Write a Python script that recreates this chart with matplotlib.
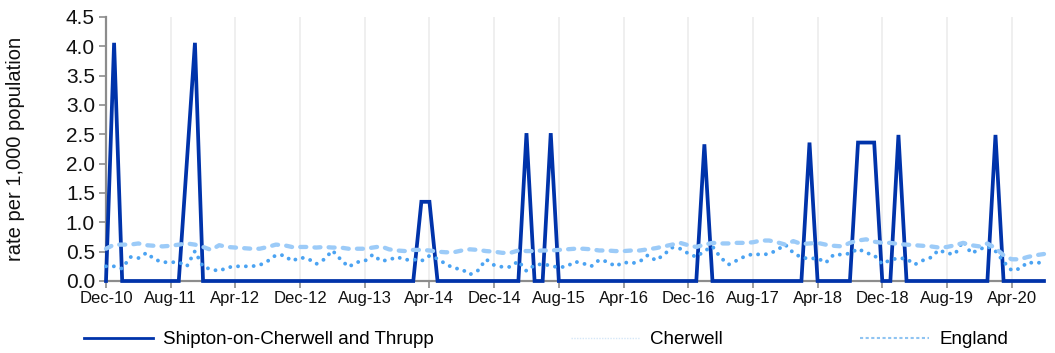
import numpy as np
import pandas as pd
import matplotlib
matplotlib.use('Agg')
import matplotlib.pyplot as plt
from matplotlib.lines import Line2D

''' ========== monthly rates, Dec-10 .. Aug-20 ========== '''
months = pd.date_range('2010-12-01', periods=117, freq='MS')
month_labels = [m.strftime('%b-%y') for m in months]

# Shipton-on-Cherwell and Thrupp - mostly zero with single-month spikes
shipton = np.zeros(117)
shipton[[1, 11]] = 4.06
shipton[10] = 2.03
shipton[[39, 40]] = 1.35
shipton[[52, 55]] = 2.52
shipton[74] = 2.33
shipton[[87, 93, 94, 95]] = 2.36
shipton[[98, 110]] = 2.49

cherwell = [0.25, 0.25, 0.21, 0.41, 0.39, 0.48, 0.37, 0.32, 0.32, 0.32,
            0.25, 0.51, 0.24, 0.20, 0.17, 0.23, 0.25, 0.25, 0.25, 0.27,
            0.34, 0.44, 0.44, 0.34, 0.40, 0.38, 0.29, 0.37, 0.52, 0.37,
            0.24, 0.32, 0.34, 0.45, 0.34, 0.36, 0.41, 0.36, 0.37, 0.34,
            0.43, 0.38, 0.29, 0.22, 0.20, 0.11, 0.18, 0.37, 0.27, 0.24,
            0.24, 0.34, 0.17, 0.27, 0.29, 0.26, 0.23, 0.25, 0.33, 0.30,
            0.25, 0.36, 0.33, 0.25, 0.32, 0.30, 0.33, 0.44, 0.35, 0.45,
            0.57, 0.55, 0.47, 0.41, 0.51, 0.59, 0.40, 0.28, 0.35, 0.42,
            0.46, 0.45, 0.46, 0.53, 0.62, 0.48, 0.40, 0.38, 0.39, 0.31,
            0.45, 0.45, 0.47, 0.55, 0.48, 0.44, 0.29, 0.36, 0.39, 0.38,
            0.28, 0.35, 0.40, 0.53, 0.47, 0.46, 0.68, 0.47, 0.54, 0.59,
            0.51, 0.33, 0.18, 0.21, 0.32, 0.30, 0.33]

england = [0.55, 0.62, 0.62, 0.62, 0.64, 0.61, 0.60, 0.59, 0.60, 0.62,
           0.64, 0.62, 0.58, 0.53, 0.61, 0.58, 0.57, 0.56, 0.55, 0.55,
           0.58, 0.62, 0.61, 0.58, 0.58, 0.58, 0.57, 0.58, 0.57, 0.57,
           0.55, 0.55, 0.55, 0.57, 0.59, 0.54, 0.52, 0.51, 0.53, 0.53,
           0.52, 0.50, 0.49, 0.49, 0.52, 0.54, 0.53, 0.51, 0.50, 0.48,
           0.48, 0.52, 0.51, 0.51, 0.52, 0.52, 0.53, 0.54, 0.55, 0.55,
           0.54, 0.52, 0.52, 0.51, 0.51, 0.52, 0.52, 0.54, 0.56, 0.59,
           0.62, 0.65, 0.61, 0.58, 0.62, 0.65, 0.64, 0.64, 0.65, 0.65,
           0.66, 0.69, 0.69, 0.66, 0.62, 0.68, 0.63, 0.64, 0.65, 0.62,
           0.60, 0.59, 0.65, 0.69, 0.71, 0.67, 0.65, 0.65, 0.63, 0.62,
           0.61, 0.60, 0.59, 0.57, 0.58, 0.61, 0.65, 0.61, 0.59, 0.64,
           0.56, 0.44, 0.37, 0.37, 0.41, 0.44, 0.46]

series_names = ['Shipton-on-Cherwell and Thrupp', 'Cherwell', 'England']
y_ticks = np.arange(0, 4.51, 0.5)

dark_blue = '#0033aa'
mid_blue = '#4ba3f2'
light_blue = '#9ccbf8'
axis_grey = '#8c8c8c'

plt.rcParams['font.family'] = ['Liberation Sans', 'DejaVu Sans']

fig = plt.figure(figsize=(10.55, 3.53), dpi=100)
ax = fig.add_axes([106 / 1055, 1 - 281 / 353, 938 / 1055, 264 / 353])

x = np.arange(len(months))
ax.plot(x, shipton, color=dark_blue, lw=2.7, solid_joinstyle='miter', clip_on=False, zorder=3)
ax.plot(x, cherwell, color=mid_blue, lw=2.8, linestyle=(0, (0.01, 2.0)),
        dash_capstyle='round', clip_on=False, zorder=4)
ax.plot(x, england, color=light_blue, lw=3.1, linestyle=(0, (1.4, 1.9)),
        dash_capstyle='round', clip_on=False, zorder=5)

ax.set_xlim(0, len(months) - 1)
ax.set_ylim(0, 4.5)
ax.set_yticks(y_ticks)
ax.set_yticklabels([f'{v:.1f}' for v in y_ticks])
tick_idx = list(range(0, len(months), 8))
ax.set_xticks(tick_idx)
ax.set_xticklabels([month_labels[i] for i in tick_idx])

ax.grid(axis='x', color='#ececec', lw=1.2, zorder=0)
ax.set_axisbelow(True)
for side in ['top', 'right']:
    ax.spines[side].set_visible(False)
for side in ['left', 'bottom']:
    ax.spines[side].set_color(axis_grey)
    ax.spines[side].set_linewidth(1.6)
ax.tick_params(axis='both', colors=axis_grey, width=1.2, length=5, labelcolor='#111111')
ax.tick_params(axis='x', labelsize=12, pad=2)
ax.tick_params(axis='y', labelsize=15, pad=3)
ax.set_ylabel('rate per 1,000 population', fontsize=14.5, color='#111111')
ax.yaxis.set_label_coords(-0.086, 0.5)

handles = [Line2D([], [], color=dark_blue, lw=2.0),
           Line2D([], [], color='#d5e7f8', lw=1.0, linestyle=(0, (1, 1))),
           Line2D([], [], color='#8fc4f2', lw=1.5, linestyle=(0, (1.5, 1.2)))]
fig.legend(handles, series_names, loc='center', ncol=3, mode='expand', frameon=False,
           bbox_to_anchor=(76 / 1055, 0.0, 940 / 1055, 0.075), fontsize=13.5,
           handlelength=3.7, handletextpad=0.55, borderaxespad=0)

fig.savefig('out.png', dpi=100)
